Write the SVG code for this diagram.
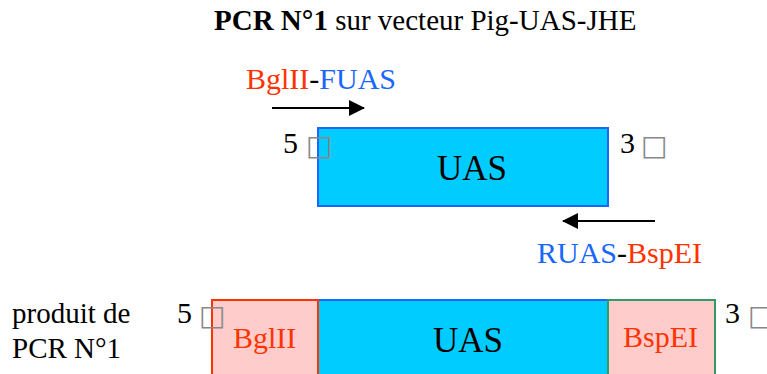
<svg xmlns="http://www.w3.org/2000/svg" width="767" height="374" viewBox="0 0 767 374">
<style>
text{font-family:"Liberation Serif","Times New Roman",serif;fill:#000}
.t30{font-size:30px}
.red{fill:#ff3300}
.blue{fill:#1a66ff}
.tofu{font-family:"DejaVu Sans",sans-serif;fill:#888;font-size:28px}
.uas{fill:#00ccff;stroke:#1a66ff;stroke-width:2}
.pink{fill:#ffcccc;stroke-width:2}
.arrow{stroke:#000;stroke-width:2;fill:none}
</style>
<defs>
<marker id="ah" viewBox="0 0 16 16" refX="15" refY="8" markerWidth="16" markerHeight="16" markerUnits="userSpaceOnUse" orient="auto">
<path d="M0,0 L16,8 L0,16 Z" fill="#000"/>
</marker>
</defs>
<g id="title">
<text x="214" y="30" style="font-size:29px"><tspan font-weight="bold">PCR N°1</tspan> sur vecteur Pig-UAS-JHE</text>
</g>
<g id="connectors">
<line class="arrow" x1="272" y1="108" x2="364" y2="108" marker-end="url(#ah)"/>
<line class="arrow" x1="655" y1="221" x2="563" y2="221" marker-end="url(#ah)"/>
</g>
<g id="primer-f">
<text class="t30" x="246" y="89"><tspan class="red">BglII</tspan>-<tspan class="blue">FUAS</tspan></text>
</g>
<g id="primer-r">
<text class="t30" x="537" y="263"><tspan class="blue">RUAS</tspan>-<tspan class="red">BspEI</tspan></text>
</g>
<g id="uas-top">
<rect class="uas" x="318" y="128" width="290" height="78"/>
<text x="437" y="180" style="font-size:35px">UAS</text>
<text class="t30" x="283" y="153">5 <tspan class="tofu" x="306" y="155">□</tspan></text>
<text class="t30" x="620" y="153">3 <tspan class="tofu" x="641" y="155">□</tspan></text>
</g>
<g id="label-produit">
<text x="12" y="323" style="font-size:29px">produit de</text>
<text x="12" y="358" style="font-size:29px">PCR N°1</text>
</g>
<g id="product">
<rect class="uas" x="318" y="300" width="290" height="100"/>
<rect class="pink" x="212" y="300" width="106" height="100" stroke="#ff3300"/>
<rect class="pink" x="608" y="300" width="107" height="100" stroke="#339966"/>
<text class="t30 red" x="233" y="348">BglII</text>
<text x="433" y="352" style="font-size:35px">UAS</text>
<text class="t30 red" x="623" y="347">BspEI</text>
<text class="t30" x="177" y="323">5 <tspan class="tofu" x="199" y="325">□</tspan></text>
<text class="t30" x="725" y="323">3 <tspan class="tofu" x="748" y="325">□</tspan></text>
</g>
</svg>
